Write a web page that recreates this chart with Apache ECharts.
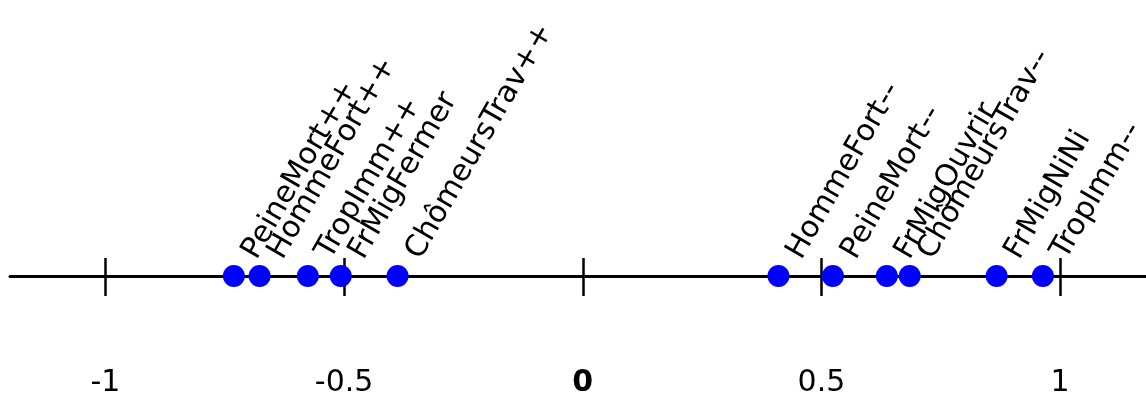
<!DOCTYPE html>
<html>
<head>
<meta charset="utf-8">
<script src="https://cdn.jsdelivr.net/npm/echarts@6/dist/echarts.min.js"></script>
<style>
	html, body { margin: 0; padding: 0; background: #fff; }
	#chart { width: 1146px; height: 394px; }
</style>
</head>
<body>
<div id="chart"></div>
<script>
// modalities and their coordinate on the first axis
var names = [
	"PeineMort++", "HommeFort++", "TropImm++", "FrMigFermer", "ChômeursTrav++",
	"HommeFort--", "PeineMort--", "FrMigOuvrir", "ChômeursTrav--", "FrMigNiNi", "TropImm--"
];
var coords = [-0.731, -0.677, -0.576, -0.507, -0.388, 0.410, 0.524, 0.637, 0.685, 0.867, 0.964];

// ticks shown on the axis
var tickValues = [-1, -0.5, 0, 0.5, 1];
var axisMin = -1.2,
	axisMax = 1.18;

var chart = echarts.init(document.getElementById("chart"), null, { renderer: "canvas" });

var points = [];
names.forEach(function (n, i) {
	points.push({ name: n, value: [coords[i], 0] });
});

var font = "DejaVu Sans";

option = {
	animation: false,
	grid: {
		left: 10,
		right: 0,
		top: 0,
		bottom: 118,
		// don't let echarts shrink the grid to fit the tick labels
		outerBoundsMode: "none"
	},
	xAxis: [
		{
			type: "value",
			min: axisMin,
			max: axisMax,
			position: "bottom",
			splitLine: { show: false },
			axisLine: { show: true, lineStyle: { color: "#000", width: 3 } },
			axisTick: {
				show: true,
				inside: false,
				length: 20,
				customValues: tickValues,
				lineStyle: { color: "#000", width: 2.5 }
			},
			axisLabel: {
				show: true,
				margin: 92,
				customValues: tickValues,
				fontFamily: font,
				fontSize: 30,
				color: "#000",
				formatter: function (v) {
					if (Math.abs(v) < 1e-9) return "{b|0}";
					return String(v);
				},
				rich: {
					b: { fontFamily: font, fontSize: 30, fontWeight: "bold", color: "#000" }
				}
			}
		},
		{
			type: "value",
			min: axisMin,
			max: axisMax,
			position: "bottom",
			splitLine: { show: false },
			axisLine: { show: false },
			axisTick: {
				show: true,
				inside: true,
				length: 18,
				customValues: tickValues,
				lineStyle: { color: "#000", width: 2.5 }
			},
			axisLabel: { show: false }
		}
	],
	yAxis: {
		type: "value",
		min: 0,
		max: 1,
		show: false
	},
	series: [
		{
			type: "scatter",
			data: points,
			symbolSize: 22,
			clip: false,
			itemStyle: { color: "#0000ff", opacity: 1 },
			label: {
				show: true,
				formatter: "{b}",
				position: [40, -1],
				align: "left",
				verticalAlign: "bottom",
				rotate: 60,
				fontFamily: font,
				fontSize: 30,
				color: "#000"
			}
		}
	]
};
chart.setOption(option);
</script>
</body>
</html>
